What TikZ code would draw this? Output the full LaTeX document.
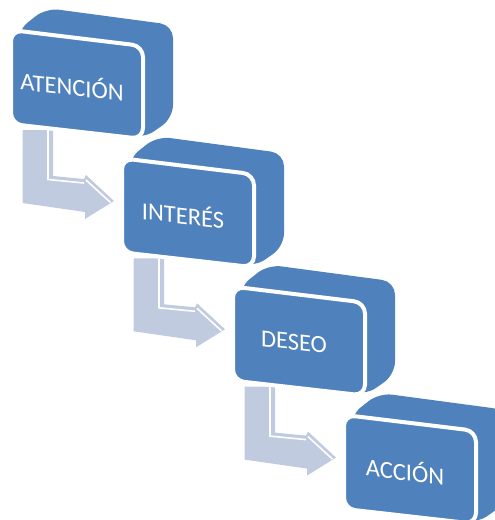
\documentclass[tikz,border=0pt]{standalone}
\usepackage{fontspec}
\setmainfont{Carlito}
\definecolor{boxblue}{RGB}{79,129,189}
\definecolor{arrowgrey}{RGB}{193,203,224}
\tikzset{
  boxbody/.style={fill=boxblue, rounded corners=13pt},
  boxface/.style={fill=boxblue, draw=white, line width=4pt, rounded corners=11pt},
  boxtext/.style={text=white, font=\fontsize{24.5}{28}\selectfont,
                  transform shape, yslant=-0.117, inner sep=0pt},
  bendarrow/.style={fill=arrowgrey},
  arrowedge/.style={draw=white, line width=1.6pt},
}
\begin{document}
\begin{tikzpicture}[x=1pt,y=-1pt]
  \useasboundingbox (0,0) rectangle (495,520);
  \clip (0,0) rectangle (495,520);

  % bent arrows between consecutive steps
  \foreach \i in {0,1,2}{
    \begin{scope}[shift={(111*\i,128.3*\i)}]
      \fill[bendarrow] (22.5,130) -- (53,130) -- (53,176) -- (84,179) -- (86,175)
        -- (114,201) -- (85,219) -- (85,212) -- (22.5,203) -- cycle;
      \draw[arrowedge] (48,130) -- (48,179.5) -- (84,183);
      \draw[arrowedge] (86,180) -- (110.5,202.5);
    \end{scope}
  }

  % steps: body in perspective, front face with white rim, label
  \foreach \i/\txt in {0/ATENCIÓN,1/INTERÉS,2/DESEO,3/ACCIÓN}{
    \begin{scope}[shift={(111*\i,128.3*\i)}]
      \fill[boxbody] (30,100) -- (17,31) -- (46,8) -- (173,25) -- (173,118)
        -- (143,139) -- cycle;
      \draw[boxface] (11,30) -- (143,46) -- (143,139) -- (11,124) -- cycle;
      \node[boxtext] (label\i) at (72,85.5) {\txt};
    \end{scope}
  }
\end{tikzpicture}
\end{document}
